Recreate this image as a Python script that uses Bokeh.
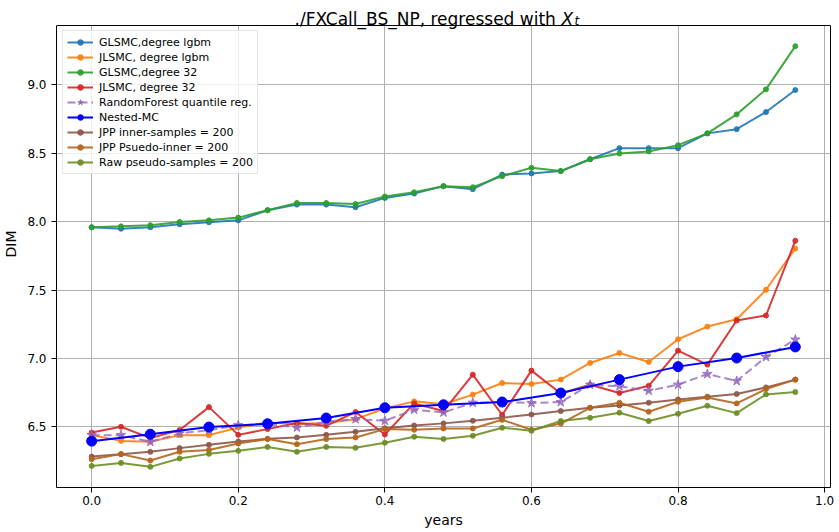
from bokeh.plotting import figure
from bokeh.models import (Range1d, FixedTicker, PrintfTickFormatter, Legend, LegendItem, Label,
                          LinearAxis, Span, Grid)
from bokeh.embed import file_html
from bokeh.resources import INLINE

years = [0.0, 0.04, 0.08, 0.12, 0.16, 0.20, 0.24, 0.28, 0.32, 0.36, 0.40, 0.44, 0.48,
         0.52, 0.56, 0.60, 0.64, 0.68, 0.72, 0.76, 0.80, 0.84, 0.88, 0.92, 0.96]
nested_years = [0.0, 0.08, 0.16, 0.24, 0.32, 0.40, 0.48, 0.56, 0.64, 0.72, 0.80, 0.88, 0.96]

glsmc_lgbm = [7.959, 7.949, 7.959, 7.981, 7.996, 8.010, 8.084, 8.125, 8.125, 8.106, 8.174, 8.206, 8.260,
              8.238, 8.345, 8.353, 8.370, 8.457, 8.538, 8.538, 8.538, 8.646, 8.677, 8.802, 8.963]
jlsmc_lgbm = [6.440, 6.397, 6.390, 6.439, 6.439, 6.495, 6.532, 6.520, 6.527, 6.556, 6.634, 6.686, 6.665,
              6.735, 6.820, 6.813, 6.845, 6.967, 7.040, 6.974, 7.140, 7.233, 7.287, 7.502, 7.803]
glsmc_32 = [7.959, 7.966, 7.974, 7.998, 8.010, 8.030, 8.084, 8.137, 8.137, 8.130, 8.184, 8.215, 8.260,
            8.252, 8.333, 8.394, 8.370, 8.457, 8.499, 8.514, 8.560, 8.646, 8.785, 8.968, 9.284]
jlsmc_32 = [6.458, 6.500, 6.417, 6.476, 6.644, 6.441, 6.483, 6.527, 6.507, 6.608, 6.444, 6.671, 6.615,
            6.881, 6.586, 6.911, 6.744, 6.808, 6.747, 6.800, 7.057, 6.955, 7.277, 7.314, 7.861]
rf_quantile = [6.439, 6.439, 6.390, 6.451, 6.476, 6.512, 6.520, 6.495, 6.537, 6.556, 6.544, 6.625, 6.605,
               6.676, 6.680, 6.674, 6.681, 6.808, 6.796, 6.764, 6.808, 6.886, 6.835, 7.011, 7.138]
nested_mc = [6.395, 6.446, 6.498, 6.522, 6.564, 6.639, 6.661, 6.681, 6.747, 6.845, 6.940, 7.003, 7.084]
jpp_inner = [6.282, 6.300, 6.317, 6.344, 6.368, 6.392, 6.412, 6.422, 6.441, 6.463, 6.490, 6.510, 6.525,
             6.544, 6.566, 6.590, 6.615, 6.639, 6.656, 6.676, 6.700, 6.720, 6.740, 6.788, 6.845]
jpp_pseudo = [6.263, 6.300, 6.253, 6.317, 6.331, 6.378, 6.410, 6.373, 6.410, 6.422, 6.483, 6.478, 6.488,
              6.488, 6.551, 6.478, 6.524, 6.639, 6.676, 6.610, 6.683, 6.715, 6.671, 6.776, 6.845]
raw_pseudo = [6.214, 6.236, 6.207, 6.268, 6.302, 6.324, 6.353, 6.317, 6.353, 6.346, 6.383, 6.427, 6.411,
              6.434, 6.493, 6.471, 6.542, 6.566, 6.603, 6.542, 6.595, 6.654, 6.600, 6.737, 6.754]

x_ticks = [0.0, 0.2, 0.4, 0.6, 0.8, 1.0]
y_ticks = [6.5, 7.0, 7.5, 8.0, 8.5, 9.0]

FONT = "DejaVu Sans"

# axes limits (matplotlib-like 5% margins)
X_MIN, X_MAX = -0.048, 1.008
Y_MIN, Y_MAX = 6.056, 9.435
# the frame is extended upward by a 25px strip that holds the title
PLOT_H = 462
TITLE_STRIP = 25
Y_TOP = Y_MAX + TITLE_STRIP * (Y_MAX - Y_MIN) / PLOT_H

p = figure(width=839, height=532, output_backend="svg", toolbar_location=None, title=None,
           x_range=Range1d(X_MIN, X_MAX), y_range=Range1d(Y_MIN, Y_TOP),
           min_border_left=55, min_border_right=9, min_border_top=0, min_border_bottom=45)
p.background_fill_color = "white"
p.border_fill_color = "white"
p.outline_line_color = None

for ax in (p.xaxis[0], p.yaxis[0]):
    ax.major_label_text_font = FONT
    ax.major_label_text_font_size = "12px"
    ax.major_label_text_color = "black"
    ax.axis_label_text_font = FONT
    ax.axis_label_text_font_size = "14px"
    ax.axis_label_text_font_style = "normal"
    ax.axis_label_text_color = "black"
    ax.axis_line_color = "black"
    ax.major_tick_line_color = "black"
    ax.major_tick_out = 5
    ax.major_tick_in = 0
    ax.minor_tick_line_color = None
    ax.minor_tick_out = 0
    ax.minor_tick_in = 0
    ax.formatter = PrintfTickFormatter(format="%.1f")

p.xaxis[0].major_label_standoff = 3
p.xaxis[0].axis_label_standoff = 4
p.yaxis[0].major_label_standoff = 5
p.yaxis[0].axis_label_standoff = 5

p.xaxis[0].ticker = FixedTicker(ticks=x_ticks)
p.yaxis[0].ticker = FixedTicker(ticks=y_ticks)
p.yaxis[0].bounds = (Y_MIN, Y_MAX)
p.xaxis[0].axis_label = "years"
p.yaxis[0].axis_label = "DIM"

# right spine
right_spine = LinearAxis(bounds=(Y_MIN, Y_MAX), ticker=FixedTicker(ticks=[]),
                         axis_line_color="black", major_tick_line_color=None,
                         minor_tick_line_color=None, major_label_text_font_size="0px",
                         major_tick_out=0, major_tick_in=0, minor_tick_out=0, minor_tick_in=0,
                         major_label_standoff=0, axis_label=None, axis_label_standoff=0)
p.add_layout(right_spine, "right")
# top spine
p.add_layout(Span(location=Y_MAX, dimension="width", line_color="black", line_width=1))

for g in (p.xgrid[0], p.ygrid[0]):
    g.grid_line_color = "#b0b0b0"
    g.grid_line_width = 1
p.xgrid[0].ticker = FixedTicker(ticks=x_ticks)
p.ygrid[0].ticker = FixedTicker(ticks=y_ticks)
if "cross_bounds" in Grid.properties():
    p.xgrid[0].cross_bounds = (Y_MIN, Y_MAX)
else:
    p.xgrid[0].visible = False
    p.segment(x0=x_ticks, y0=[Y_MIN] * len(x_ticks), x1=x_ticks, y1=[Y_MAX] * len(x_ticks),
              line_color="#b0b0b0", line_width=1, level="underlay")

items = []

def add_series(xs, ys, color, label, marker="circle", size=5, dash="solid", alpha=0.9, lw=2):
    r1 = p.line(xs, ys, line_color=color, line_width=lw, line_dash=dash, line_alpha=alpha)
    r2 = p.scatter(xs, ys, marker=marker, size=size, fill_color=color, line_color=color,
                   fill_alpha=alpha, line_alpha=alpha)
    items.append(LegendItem(label=label, renderers=[r1, r2]))

add_series(years, glsmc_lgbm, "#1f77b4", "GLSMC,degree lgbm")
add_series(years, jlsmc_lgbm, "#ff7f0e", "JLSMC, degree lgbm")
add_series(years, glsmc_32, "#2ca02c", "GLSMC,degree 32")
add_series(years, jlsmc_32, "#d62728", "JLSMC, degree 32")
add_series(years, rf_quantile, "#9467bd", "RandomForest quantile reg.", marker="star", size=10, dash="8 4", alpha=0.8)
add_series(nested_years, nested_mc, "#0000ff", "Nested-MC", size=10, alpha=1.0)
add_series(years, jpp_inner, "#8c564b", "JPP inner-samples = 200")
add_series(years, jpp_pseudo, "#b5651d", "JPP Psuedo-inner = 200")
add_series(years, raw_pseudo, "#6b8e23", "Raw pseudo-samples = 200")

legend = Legend(items=items, location=(6, 313))
legend.label_text_font = FONT
legend.label_text_font_size = "11px"
legend.label_text_color = "black"
legend.glyph_width = 26
legend.glyph_height = 14
legend.label_height = 14
legend.spacing = 1
legend.padding = 4
legend.margin = 0
legend.label_standoff = 6
legend.border_line_color = "#cccccc"
legend.border_line_width = 1
legend.background_fill_color = "white"
legend.background_fill_alpha = 0.8
p.add_layout(legend)

# title pieces (frame-relative screen units)
p.add_layout(Label(x=238, y=468.5, x_units="screen", y_units="screen",
                   text="./FXCall_BS_NP, regressed with", text_font=FONT, text_font_size="17px",
                   text_color="black", text_baseline="alphabetic", text_align="left"))
p.add_layout(Label(x=505, y=468.5, x_units="screen", y_units="screen",
                   text="X", text_font=FONT, text_font_size="17px", text_font_style="italic",
                   text_color="black", text_baseline="alphabetic", text_align="left"))
p.add_layout(Label(x=518, y=466.3, x_units="screen", y_units="screen",
                   text="t", text_font=FONT, text_font_size="12px", text_font_style="italic",
                   text_color="black", text_baseline="alphabetic", text_align="left"))

open("out.html", "w").write(file_html(p, INLINE))
